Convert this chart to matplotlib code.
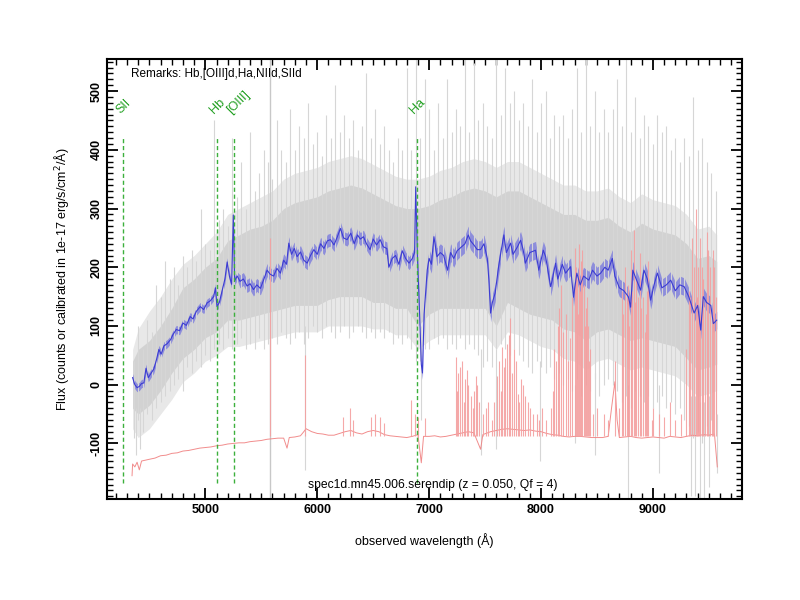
#spec1d.mn45.006.serendip - espectro observado
import matplotlib
matplotlib.use("Agg")
import matplotlib.pyplot as plt
from matplotlib.ticker import MultipleLocator

plt.rcParams['font.family'] = ['Liberation Sans', 'DejaVu Sans']
plt.rcParams['axes.unicode_minus'] = False

# espectro suavizado (azul)
blue_wave = [
    4350, 4370, 4390, 4410, 4430, 4450, 4470, 4490, 4510, 4540,
    4560, 4585, 4605, 4630, 4660, 4690, 4710, 4740, 4770, 4800,
    4830, 4865, 4890, 4920, 4955, 4985, 5015, 5045, 5075, 5090,
    5104, 5125, 5150, 5175, 5195, 5215, 5235, 5250, 5262, 5285,
    5310, 5340, 5373, 5400, 5430, 5460, 5492, 5520, 5552, 5580,
    5610, 5640, 5671, 5700, 5725, 5746, 5770, 5795, 5820, 5850,
    5880, 5910, 5940, 5970, 6000, 6030, 6060, 6090, 6118, 6150,
    6180, 6207, 6235, 6267, 6300, 6330, 6360, 6385, 6413, 6440,
    6472, 6500, 6530, 6562, 6590, 6622, 6640, 6670, 6700, 6730,
    6760, 6790, 6820, 6850, 6870, 6880, 6895, 6915, 6930, 6940,
    6955, 6983, 7000, 7020, 7043, 7070, 7100, 7130, 7165, 7192,
    7220, 7250, 7290, 7320, 7350, 7370, 7400, 7430, 7460, 7490,
    7520, 7534, 7549, 7565, 7590, 7620, 7639, 7668, 7690, 7728,
    7750, 7790, 7817, 7840, 7860, 7900, 7951, 7980, 8000, 8020,
    8041, 8070, 8086, 8100, 8130, 8150, 8190, 8220, 8264, 8290,
    8320, 8350, 8380, 8427, 8460, 8500, 8533, 8570, 8600, 8637,
    8660, 8700, 8740, 8780, 8801, 8820, 8850, 8890, 8920, 8950,
    8980, 9010, 9040, 9080, 9120, 9159, 9200, 9240, 9279, 9320,
    9368, 9400, 9427, 9450, 9480, 9517, 9540, 9570]
blue_flux = [
    12, 0, -5, -3, 2, 3, 28, 12, 18, 27,
    40, 60, 52, 66, 70, 77, 85, 94, 92, 105,
    101, 116, 112, 125, 133, 128, 139, 143, 150, 165,
    133, 140, 160, 180, 209, 185, 171, 289, 177, 185,
    176, 180, 168, 172, 162, 170, 164, 178, 195, 188,
    185, 198, 190, 212, 205, 241, 222, 232, 218, 226,
    212, 207, 220, 230, 222, 240, 232, 245, 247, 238,
    252, 266, 250, 247, 258, 240, 255, 248, 252, 240,
    230, 248, 238, 247, 235, 232, 200, 215, 220, 205,
    228, 215, 207, 215, 225, 337, 220, 120, 35, 20,
    120, 195, 215, 205, 252, 218, 225, 220, 195, 225,
    215, 228, 235, 240, 255, 245, 238, 230, 230, 240,
    215, 178, 122, 140, 156, 200, 223, 255, 225, 241,
    222, 235, 246, 230, 207, 225, 229, 195, 212, 229,
    218, 185, 167, 178, 207, 180, 205, 190, 201, 149,
    190, 170, 185, 178, 195, 185, 190, 200, 195, 215,
    185, 165, 160, 150, 132, 195, 180, 161, 195, 180,
    144, 170, 190, 165, 170, 178, 160, 170, 167, 150,
    122, 135, 93, 150, 140, 135, 104, 110]
blue_err = [7] * 40 + [11] * 60 + [15] * 88

# espectro bruto (cinza): nucleo denso lido a cada 100 A
gray_wave = [4350, 4400, 4500, 4600, 4700, 4800, 4900, 5000, 5100, 5200,
             5300, 5400, 5500, 5600, 5700, 5800, 5900, 6000, 6100, 6200,
             6300, 6400, 6500, 6600, 6700, 6800, 6900, 7000, 7100, 7200,
             7300, 7400, 7500, 7600, 7700, 7800, 7900, 8000, 8100, 8200,
             8300, 8400, 8500, 8600, 8700, 8800, 8900, 9000, 9100, 9200,
             9300, 9400, 9500, 9570]
gray_in_lo = [-40, -50, -35, -10, 20, 45, 60, 80, 90, 110,
              110, 115, 120, 125, 130, 135, 135, 135, 145, 150,
              150, 150, 140, 140, 130, 130, 100, 120, 130, 130,
              130, 130, 130, 100, 140, 130, 120, 115, 110, 95,
              90, 75, 90, 95, 85, 75, 80, 75, 70, 65,
              45, 25, 30, 35]
gray_in_hi = [40, 60, 75, 100, 130, 165, 180, 200, 215, 245,
              255, 265, 270, 280, 300, 310, 315, 320, 330, 335,
              340, 335, 325, 315, 305, 300, 300, 305, 315, 320,
              330, 335, 330, 320, 330, 330, 320, 310, 300, 290,
              290, 280, 280, 285, 270, 260, 275, 265, 260, 255,
              240, 215, 220, 210]
gray_out_lo = [-75, -90, -75, -50, -25, 5, 20, 40, 50, 65,
               65, 70, 75, 80, 85, 90, 90, 90, 100, 100,
               100, 100, 95, 95, 85, 85, 60, 75, 85, 85,
               85, 85, 85, 60, 90, 85, 75, 65, 60, 45,
               40, 25, 40, 45, 35, 25, 30, 25, 20, 15,
               0, -20, -15, -10]
gray_out_hi = [60, 95, 125, 150, 180, 205, 220, 240, 260, 290,
               300, 310, 320, 330, 350, 360, 365, 370, 380, 385,
               390, 385, 375, 365, 355, 350, 350, 355, 365, 370,
               380, 385, 380, 370, 380, 380, 370, 360, 350, 340,
               340, 330, 330, 335, 320, 310, 325, 315, 310, 305,
               290, 265, 270, 255]

# pixels ruidosos do espectro bruto, a cada 40 A
gspike_wave = [4360, 4400, 4440, 4480, 4520, 4560,
               4600, 4640, 4680, 4720, 4760, 4800, 4840, 4880, 4920, 4960,
               5000, 5040, 5080, 5120, 5160, 5200, 5240, 5280, 5320, 5360,
               5400, 5440, 5480, 5520, 5560, 5600, 5640, 5680, 5720, 5760,
               5800, 5840, 5880, 5920, 5960, 6000, 6040, 6080, 6120, 6160,
               6200, 6240, 6280, 6320, 6360, 6400, 6440, 6480, 6520, 6560,
               6600, 6640, 6680, 6720, 6760, 6800, 6840, 6880, 6920, 6960,
               7000, 7040, 7080, 7120, 7160, 7200, 7240, 7280, 7320, 7360,
               7400, 7440, 7480, 7520, 7560, 7600, 7640, 7680, 7720, 7760,
               7800, 7840, 7880, 7920, 7960, 8000, 8040, 8080, 8120, 8160,
               8200, 8240, 8280, 8320, 8360, 8400, 8440, 8480, 8520, 8560,
               8600, 8640, 8680, 8720, 8760, 8800, 8840, 8880, 8920, 8960,
               9000, 9040, 9080, 9120, 9160, 9200, 9240, 9280, 9320, 9360,
               9400, 9440, 9480, 9520, 9560]
gspike_hi = [40, 100, 60, 110, 90, 170,
             150, 210, 180, 200, 170, 220, 200, 230, 210, 300,
             240, 230, 450, 280, 300, 270, 420, 320, 380, 300,
             430, 330, 360, 400, 380, 350, 450, 400, 380, 470,
             400, 440, 420, 480, 410, 430, 390, 460, 420, 510,
             430, 460, 420, 450, 400, 440, 530, 420, 470, 410,
             440, 400, 380, 420, 400, 540, 400, 555, 420, 520,
             470, 400, 480, 420, 520, 430, 470, 440, 555, 430,
             548, 450, 480, 440, 420, 555, 460, 540, 480, 500,
             450, 480, 440, 520, 430, 480, 500, 420, 460, 440,
             460, 420, 470, 540, 430, 555, 440, 500, 430, 470,
             430, 470, 520, 440, 555, 430, 490, 420, 460, 440,
             410, 460, 430, 440, 400, 420, 380, 420, 390, 490,
             400, 420, 380, 360, 330]
gspike_lo = [-90, -60, -80, -50, -60, -40,
             -30, -20, -10, 0, 10, -10, 30, 20, 40, 30,
             50, 40, 60, 70, 60, 80, 60, 70, 80, 60,
             70, 60, 80, 60, 70, 80, 70, 90, 80, 70,
             80, 90, 70, 80, 100, 90, 80, 100, 90, 80,
             90, 100, 80, 90, 100, 90, 80, 90, 80, 90,
             80, 90, 70, 80, 70, 80, 60, 40, 40, 60,
             60, 80, 70, 80, 60, 70, 60, 80, 60, 70,
             60, 50, 30, 40, 30, 60, 70, 60, 50, 60,
             50, 40, 30, 20, 40, 30, 20, 30, 10, 20,
             0, 10, -10, 10, -20, 0, -10, 10, -20, 0,
             10, 0, -10, -30, -20, -40, -10, -20, -30, -20,
             -40, -30, -20, -40, -30, -50, -40, -60, -70, -90,
             -80, -100, -70, -60, -50]
# pixels que descem muito
gdeep_wave = [4380, 4420, 5894, 6930, 7460, 7600, 7990, 8300, 8480, 8780,
              9050, 9340, 9380, 9420, 9460, 9500, 9575]
gdeep_lo = [-120, -110, -145, -60, -120, -110, -130, -100, -120, -195,
            -150, -190, -190, -195, -195, -175, -150]
gdeep_hi = [-40, -40, 100, 100, 60, 60, 40, 0, 20, 0,
            0, -20, -20, -30, -30, -20, -50]
sky_line = 5577

# espectro de erro (vermelho)
red_wave = [4345, 4350, 4370, 4390, 4410, 4430, 4500, 4550, 4600, 4650,
            4700, 4750, 4800, 4850, 4900, 4950, 5000, 5050, 5100, 5150,
            5200, 5250, 5300, 5350, 5400, 5450, 5500, 5550, 5600, 5650,
            5700, 5730, 5750, 5800, 5850, 5880, 5900, 5950, 6000, 6050,
            6100, 6150, 6200, 6250, 6300, 6350, 6400, 6450, 6500, 6550,
            6600, 6650, 6700, 6750, 6800, 6850, 6900, 6930, 6950, 7000,
            7050, 7100, 7150, 7200, 7250, 7300, 7350, 7400, 7460, 7480,
            7550, 7600, 7650, 7700, 7750, 7800, 7850, 7900, 7950, 8000,
            8050, 8100, 8150, 8200, 8250, 8300, 8350, 8400, 8450, 8500,
            8550, 8600, 8630, 8660, 8680, 8700, 8750, 8800, 8850, 8900,
            8950, 9000, 9050, 9100, 9150, 9200, 9250, 9300, 9350, 9400,
            9450, 9500, 9550, 9575]
red_flux = [-155, -135, -140, -132, -145, -130, -127, -125, -121, -120,
            -117, -116, -113, -112, -110, -108, -107, -106, -104, -103,
            -101, -100, -99, -99, -97, -96, -95, -93, -92, -91,
            -91, -108, -90, -89, -87, -80, -75, -80, -83, -84,
            -86, -86, -83, -80, -78, -82, -84, -80, -78, -80,
            -85, -87, -88, -89, -90, -88, -85, -133, -88, -88,
            -87, -89, -88, -86, -84, -82, -80, -82, -110, -85,
            -80, -78, -76, -75, -76, -77, -78, -77, -79, -80,
            -83, -85, -86, -88, -89, -88, -88, -89, -90, -90,
            -90, -88, -40, 5, -60, -90, -89, -88, -90, -91,
            -90, -89, -90, -91, -88, -89, -90, -88, -86, -87,
            -85, -86, -84, -140]
rspike_wave = [5577, 5890, 6230, 6290, 6320, 6480, 6520, 6560, 6600, 6840,
               6870, 6900, 6960, 7236, 7260, 7296, 7320, 7340, 7370, 7400,
               7430, 7530, 7608, 7650, 7680, 7715, 7727, 7760, 7790, 7820,
               7860, 7900, 7960, 8010, 8085, 8120, 8150, 8180, 8220, 8260,
               8300, 8320, 8340, 8360, 8380, 8400, 8420, 8440, 8500, 8560,
               8660, 8720, 8750, 8780, 8800, 8828, 8850, 8880, 8910, 8940,
               8960, 9000, 9050, 9100, 9150, 9200, 9250, 9320, 9350, 9382,
               9400, 9420, 9450, 9480, 9510, 9540, 9560,
               7250, 7280, 7310, 7350, 7390, 7420, 7450, 7480, 7510, 7560,
               7580, 7620, 7640, 7665, 7700, 7740, 7775, 7805, 7840, 7880,
               7930, 7980, 8040, 8110, 8135, 8165, 8200, 8240, 8280, 8310,
               8330, 8350, 8370, 8390, 8410, 8430, 8460, 8600, 8700, 8735,
               8765, 8790, 8815, 8840, 8865, 8895, 8925, 8950, 8990, 9300,
               9330, 9365, 9395, 9410, 9435, 9465, 9495, 9525, 9550]
rspike_top = [250, 50, -55, -40, -60, -55, -50, -55, -65, -26,
              -50, -55, -56, 48, 20, 40, 10, 25, -20, -10,
              0, -30, 14, 65, 45, 85, 114, 60, -15, 10,
              -20, -40, -50, -40, -40, 60, 100, 170, 120, 80,
              232, 180, 240, 210, 170, 130, 100, 60, -40, -50,
              40, 160, 200, 170, 230, 263, 180, 224, 150, 120,
              210, -40, -50, -55, -30, -60, -50, 160, 250, 300,
              200, 250, 180, 260, 200, 230, 150,
              -10, 30, -30, 0, -40, 15, -30, -50, -40, -60,
              -30, 40, -10, 30, 70, 20, 40, -30, 0, -30,
              -50, -60, -60, -10, 40, 130, 90, 40, 150, 200,
              120, 160, 230, 100, 150, 40, -50, -60, -40, 120,
              150, 100, 160, 140, 150, 130, 90, 160, -60, 60,
              150, 200, 150, 100, 200, 140, 230, 120, 200]
rspike_base = -88

# linhas de emissao identificadas
line_wave = [4265, 5104, 5257, 6891]
line_name = ['SII', 'Hb', '[OIII]', 'Ha']

fig = plt.figure(figsize=(8, 6), dpi=100)
ax = fig.add_axes([0.134, 0.168, 0.7935, 0.734])

ax.fill_between(gray_wave, gray_out_lo, gray_out_hi, color='#e8e8e8', lw=0)
ax.vlines(gspike_wave, gspike_lo, gspike_hi, color='#d6d6d6', lw=0.8)
ax.vlines(gdeep_wave, gdeep_lo, gdeep_hi, color='#d6d6d6', lw=0.8)
ax.fill_between(gray_wave, gray_in_lo, gray_in_hi, color='#cfcfcf', alpha=0.85, lw=0)
ax.axvline(sky_line, color='#c8c8c8', lw=1)

ax.plot(red_wave, red_flux, color='#f08080', lw=0.7, alpha=0.9)
ax.vlines(rspike_wave, rspike_base, rspike_top, color='#f4a0a0', lw=0.8, alpha=0.9)

lo = [f - e for f, e in zip(blue_flux, blue_err)]
hi = [f + e for f, e in zip(blue_flux, blue_err)]
ax.fill_between(blue_wave, lo, hi, color='#7070e0', alpha=0.7, lw=0)
ax.plot(blue_wave, blue_flux, color='#3c3cd2', lw=0.8)

for w, n in zip(line_wave, line_name):
    ax.plot([w, w], [-167, 420], color='#3cb03c', ls=(0, (3, 2)), lw=1)
    ax.text(w - 5, 458, n, color='#22a022', fontsize=9, rotation=45,
            rotation_mode='anchor', ha='left', va='bottom')

ax.text(0.038, 0.966, "Remarks: Hb,[OIII]d,Ha,NIId,SIId", transform=ax.transAxes,
        fontsize=8.5, va='center', ha='left')
ax.text(0.513, 0.032, "spec1d.mn45.006.serendip (z = 0.050, Qf = 4)",
        transform=ax.transAxes, fontsize=8.7, va='center', ha='center')

ax.set_xlim(4123, 9796)
ax.set_ylim(-195, 555)
ax.xaxis.set_major_locator(MultipleLocator(1000))
ax.xaxis.set_minor_locator(MultipleLocator(100))
ax.yaxis.set_major_locator(MultipleLocator(100))
ax.yaxis.set_minor_locator(MultipleLocator(10))
ax.tick_params(which='both', direction='in', top=True, right=True)
ax.tick_params(which='major', length=8, width=1.3, labelsize=9)
ax.tick_params(which='minor', length=4, width=1)
for lab in ax.get_xticklabels() + ax.get_yticklabels():
    lab.set_fontweight('bold')
for lab in ax.get_yticklabels():
    lab.set_rotation(90)
    lab.set_va('center')
for s in ax.spines.values():
    s.set_linewidth(1.5)

ax.set_xlabel("observed wavelength (Å)", fontsize=9, labelpad=12)
ax.set_ylabel("Flux (counts or calibrated in 1e-17 erg/s/cm$^2$/Å)", fontsize=9, labelpad=14)

plt.savefig("out.png", dpi=100)
